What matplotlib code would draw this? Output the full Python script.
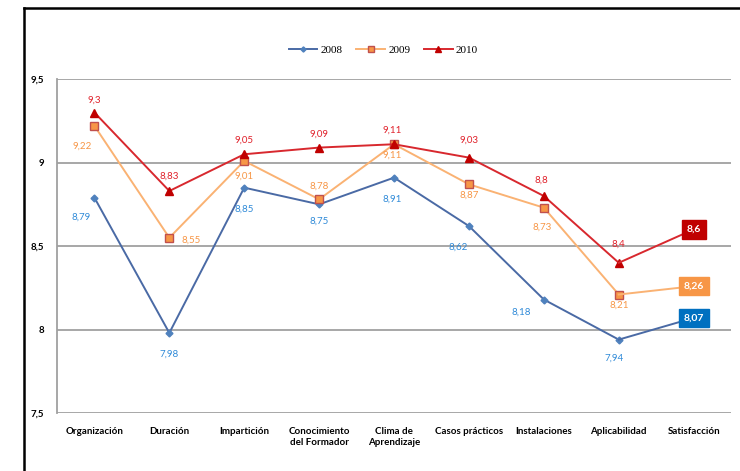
import matplotlib.pyplot as plt
from matplotlib.lines import Line2D

categorias = ['Organización', 'Duración', 'Impartición', 'Conocimiento\ndel Formador',
              'Clima de\nAprendizaje', 'Casos prácticos', 'Instalaciones',
              'Aplicabilidad', 'Satisfacción']
v2008 = [8.79, 7.98, 8.85, 8.75, 8.91, 8.62, 8.18, 7.94, 8.07]
v2009 = [9.22, 8.55, 9.01, 8.78, 9.11, 8.87, 8.73, 8.21, 8.26]
v2010 = [9.30, 8.83, 9.05, 9.09, 9.11, 9.03, 8.80, 8.40, 8.60]
yticks = [7.5, 8, 8.5, 9, 9.5]
ytick_labels = ['7,5', '8', '8,5', '9', '9,5']

# label offsets in pixels (last point gets a box instead)
off2008 = [(-13, -20), (0, -21), (0, -22), (0, -17), (-2, -22), (-11, -21), (-23, -13), (-5, -19)]
off2009 = [(-12, -20), (22, -2), (0, -15), (0, 13), (-2, -11), (0, -11), (-2, -19), (0, -11)]
off2010 = [(0, 12), (0, 15), (0, 14), (0, 13), (-2, 14), (0, 17), (-2, 16), (0, 19)]

series = [
    ('2008', v2008, off2008, '#4a6aa5', 'D', '#4f81bd', '#4f81bd', '#2f8ad8', '#0070c0', 3.5),
    ('2009', v2009, off2009, '#fab273', 's', '#f79646', '#c0504d', '#f79646', '#f79646', 5.5),
    ('2010', v2010, off2010, '#d8282e', '^', '#c00000', '#c00000', '#e0202a', '#c00000', 6),
]

def fmt(v):
    return ('%g' % v).replace('.', ',')

fig = plt.figure(figsize=(7.4, 4.71), dpi=100)
ax = fig.add_axes([0.077, 0.123, 0.911, 0.709])
x = list(range(len(categorias)))

for name, vals, offs, lc, mk, mfc, mec, tc, boxc, ms in series:
    ax.plot(x[:-1], vals[:-1], color=lc, lw=1.4, marker=mk, ms=ms,
            mfc=mfc, mec=mec, mew=1, zorder=3)
    ax.plot(x[-2:], vals[-2:], color=lc, lw=1.4, zorder=3)
    for xi, v, (dx, dy) in zip(x[:-1], vals[:-1], offs):
        ax.annotate(fmt(v), (xi, v), xytext=(dx, dy), textcoords='offset pixels',
                    ha='center', va='center', fontsize=7, color=tc, family='Lato')
    ax.text(x[-1], vals[-1], fmt(vals[-1]), ha='center', va='center', fontsize=7.5,
            color='white', weight='bold', family='Lato', zorder=5,
            bbox=dict(boxstyle='square,pad=0.45', fc=boxc, ec=boxc))

ax.set_xlim(-0.5, len(categorias) - 0.5)
ax.set_ylim(7.5, 9.5)
ax.set_yticks(yticks)
ax.set_yticklabels(ytick_labels)
ax.set_xticks(x)
ax.set_xticklabels(categorias, fontsize=7, weight='bold', family='Lato', linespacing=1.3)
for t in ax.get_yticklabels():
    t.set_fontsize(7)
    t.set_weight('bold')
    t.set_family('Lato')
ax.tick_params(axis='both', length=0)
ax.tick_params(axis='y', pad=9)
ax.tick_params(axis='x', pad=10)
for t in ax.get_xticklabels():
    t.set_verticalalignment('top')
ax.grid(axis='y', color='#a0a0a0', lw=1.3)
ax.set_axisbelow(True)
for s in ['top', 'right', 'bottom']:
    ax.spines[s].set_visible(False)
ax.spines['left'].set_color('#a0a0a0')
ax.spines['left'].set_linewidth(1.3)

handles = [Line2D([], [], color=s[3], marker=s[4], ms=s[9] * 0.75, mfc=s[5], mec=s[6], lw=1.4)
           for s in series]
fig.legend(handles, [s[0] for s in series], loc='center', bbox_to_anchor=(0.518, 0.893),
           ncol=3, frameon=False, prop={'family': 'Liberation Serif', 'size': 8},
           handlelength=2.6, columnspacing=1.2, handletextpad=0.3)

# outer frame (left and top edges)
fig.add_artist(Line2D([0.033, 0.033], [0, 0.983], color='black', lw=1.8, transform=fig.transFigure))
fig.add_artist(Line2D([0.033, 1], [0.983, 0.983], color='black', lw=1.8, transform=fig.transFigure))

fig.savefig('out.png', dpi=100)
